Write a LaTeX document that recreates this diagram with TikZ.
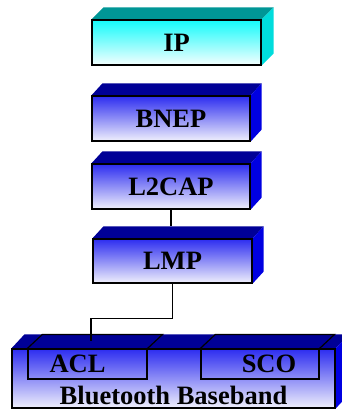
\documentclass[tikz,border=0pt]{standalone}
\usepackage{fontspec}
\setmainfont{Liberation Serif}
\usetikzlibrary{backgrounds}

\definecolor{azulfrente}{RGB}{45,45,240}
\definecolor{azulbase}{RGB}{240,240,252}
\definecolor{azultapa}{RGB}{0,0,150}
\definecolor{azullado}{RGB}{0,0,225}
\definecolor{cianfrente}{RGB}{20,250,250}
\definecolor{cianbase}{RGB}{245,255,255}
\definecolor{ciantapa}{RGB}{0,150,150}
\definecolor{cianlado}{RGB}{0,220,220}

% caras superior y lateral de una capa
\newcommand{\lados}[4]{%
  \begin{scope}[on background layer]
    \fill[#3] (#1.north west) -- ++#2 -- ([shift={#2}]#1.north east) -- (#1.north east) -- cycle;
    \fill[#4] (#1.north east) -- ([shift={#2}]#1.north east) -- ([shift={#2}]#1.south east) -- (#1.south east) -- cycle;
  \end{scope}}

\begin{document}
\begin{tikzpicture}[x=1pt, y=-1pt,
            capa/.style={draw=black, line width=1.2pt, inner sep=0pt, top color=azulfrente, bottom color=azulbase,
                         minimum width=158pt, minimum height=45pt, font=\fontsize{26.5}{29}\selectfont\bfseries},
            hueco/.style={draw=black, line width=1.2pt, inner sep=0pt, minimum width=119pt, minimum height=30pt},
            texto/.style={inner sep=0pt, font=\fontsize{26.5}{29}\selectfont\bfseries},
            linea/.style={line width=1.2pt, draw=black}
        ]
        \useasboundingbox (0,0) rectangle (341,410);

        % --- PILA DE PROTOCOLOS ---
        \node[capa, top color=cianfrente, bottom color=cianbase, minimum width=169pt] (ip) at (176.5, 42.5) {IP};
        \lados{ip}{(12,-12)}{ciantapa}{cianlado}

        \node[capa] (bnep) at (171, 118.5) {BNEP};
        \lados{bnep}{(11,-12)}{azultapa}{azullado}

        \node[capa] (l2cap) at (171, 186.5) {L2CAP};
        \lados{l2cap}{(11,-12)}{azultapa}{azullado}

        \node[capa, minimum width=159pt, minimum height=44pt] (lmp) at (172.5, 261) {LMP};
        \lados{lmp}{(11,-12)}{azultapa}{azullado}

        % --- BANDA BASE ---
        \node[capa, minimum width=323pt, minimum height=59pt] (bb) at (173.5, 378.5) {};
        \lados{bb}{(13,-14)}{azultapa}{azullado}
        \node[texto] (bbtxt) at (173.5, 395.5) {Bluetooth Baseband};

        \node[hueco] (acl) at (87.5, 364) {};
        \node[hueco, minimum width=118pt] (sco) at (260, 364) {};
        \draw[linea] (acl.north west) -- ++(15,-14) -- ([shift={(15,-14)}]acl.north east) -- (acl.north east);
        \draw[linea] (sco.north west) -- ++(15,-14) -- ([shift={(15,-14)}]sco.north east) -- (sco.north east);
        \node[texto] (acltxt) at (77.5, 364) {ACL};
        \node[texto] (scotxt) at (269, 364) {SCO};

        % --- CONEXIONES ---
        \coordinate (lmptop) at ([shift={(0,-12)}]lmp.north);
        \coordinate (aclin) at ([shift={(3.5,-7)}]acl.north);
        \draw[linea] (l2cap.south) -- (l2cap.south |- lmptop);
        \draw[linea] (lmp.south) |- ([shift={(0,-23)}]aclin) -- (aclin);
    \end{tikzpicture}
\end{document}
